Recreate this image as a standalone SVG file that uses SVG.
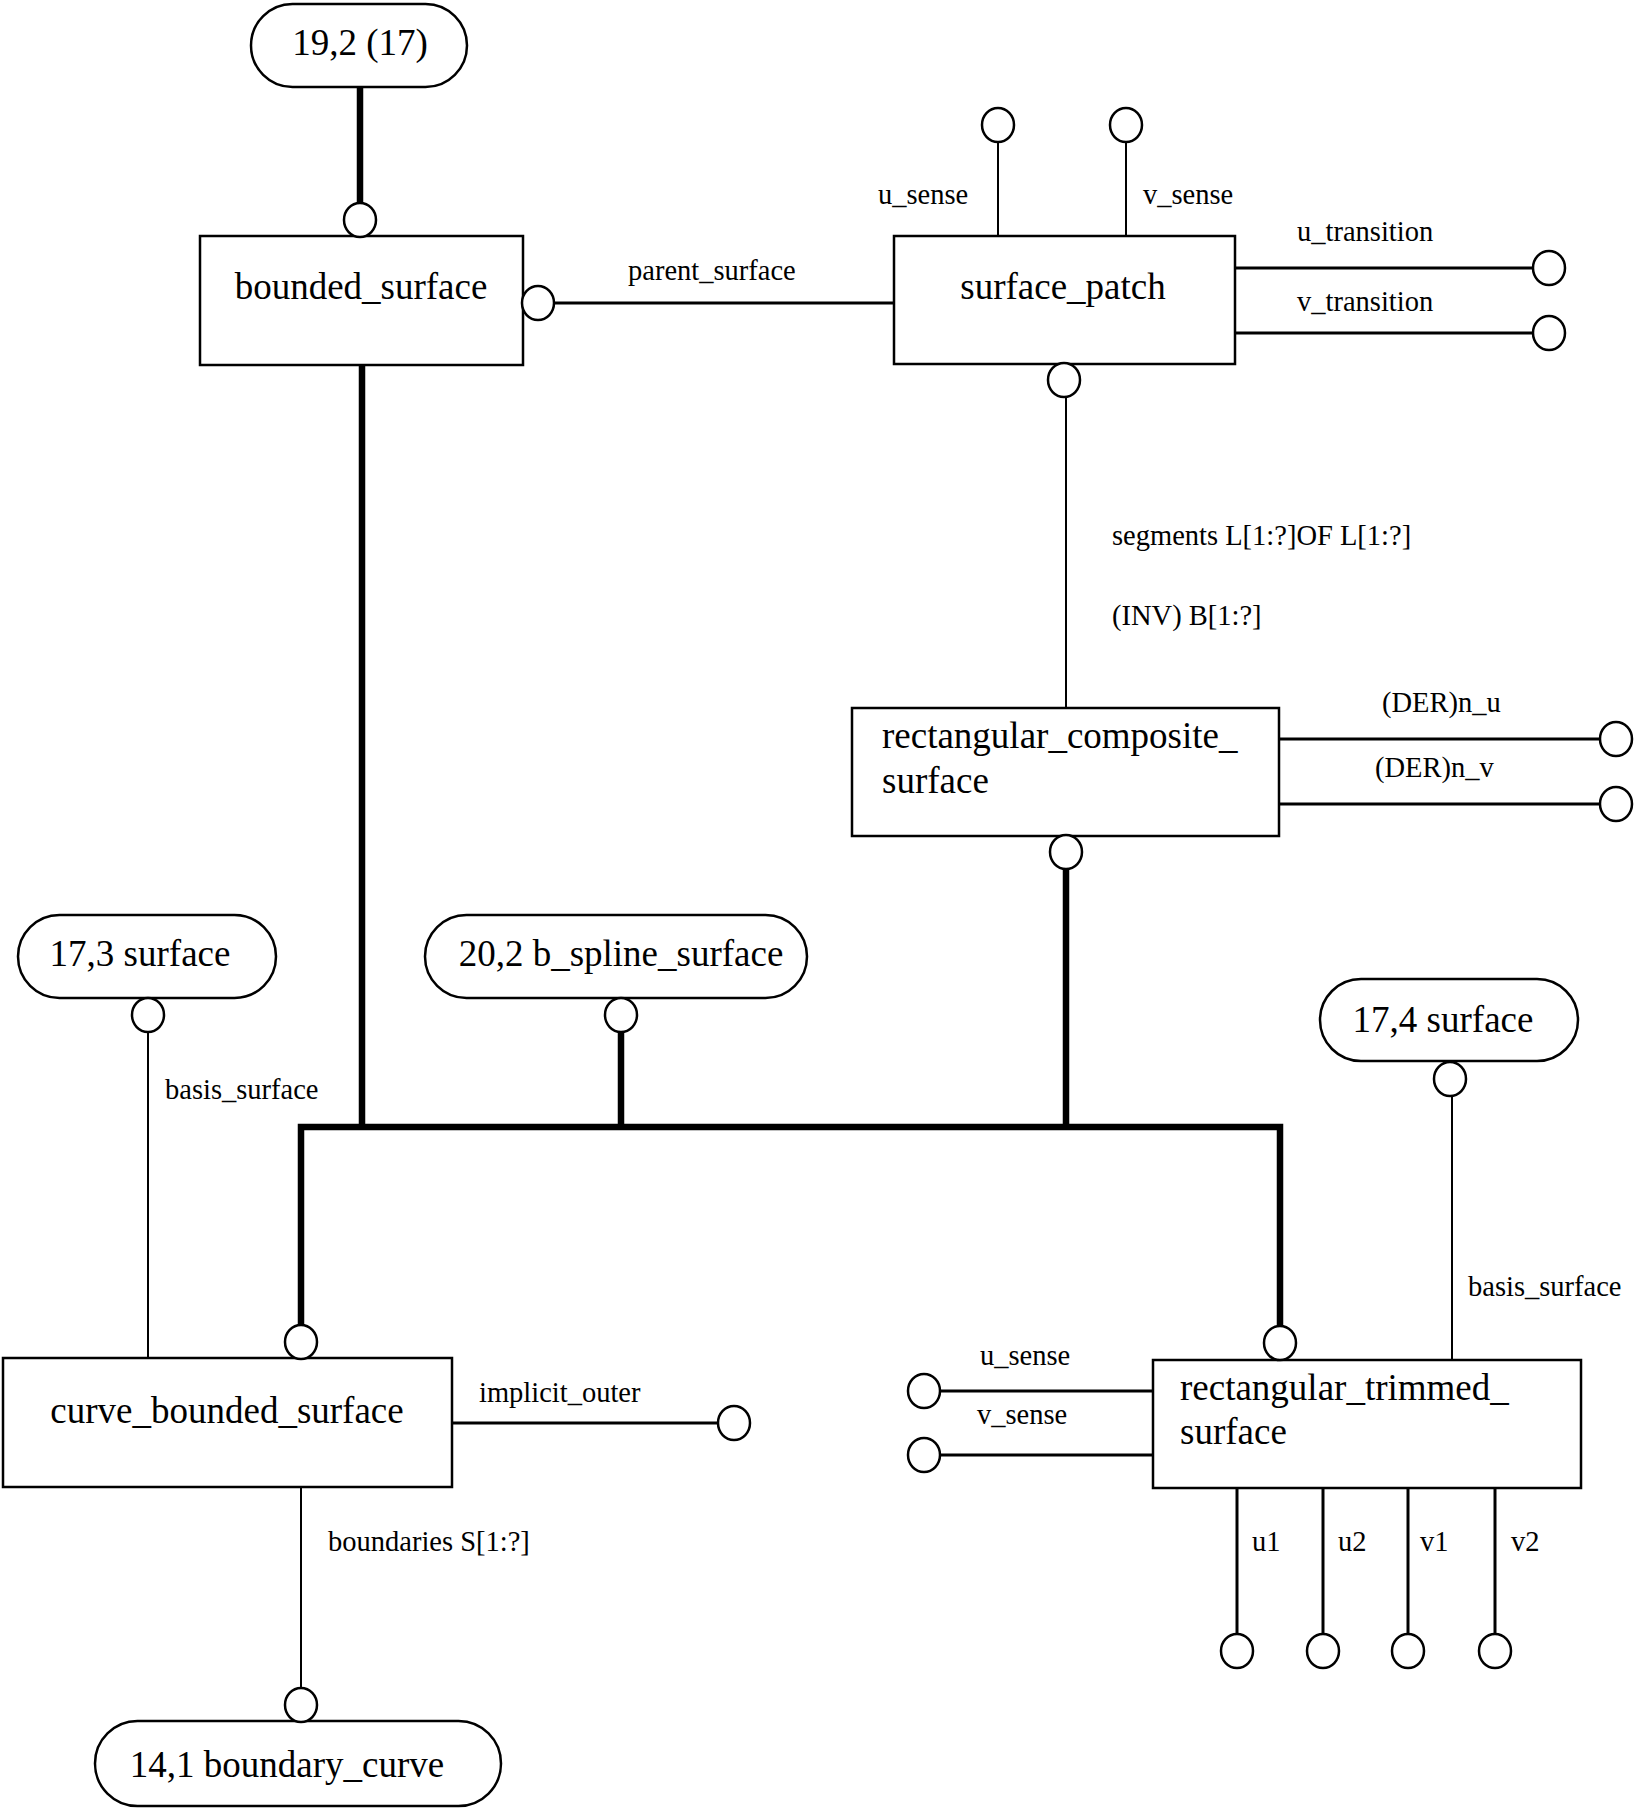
<svg xmlns="http://www.w3.org/2000/svg" width="1636" height="1813" viewBox="0 0 1636 1813">
<style>
.box{fill:#fff;stroke:#000;stroke-width:2.5}
.pill{fill:#fff;stroke:#000;stroke-width:2.5}
.c{fill:#fff;stroke:#000;stroke-width:2.5}
.thin{stroke:#000;stroke-width:2;fill:none}
.med{stroke:#000;stroke-width:3;fill:none}
.thick{stroke:#000;stroke-width:6.5;fill:none}
.big{font-family:"Liberation Serif","Times New Roman",serif;font-size:37px;fill:#000}
.sm{font-family:"Liberation Serif","Times New Roman",serif;font-size:28.5px;fill:#000}
</style>
<rect width="1636" height="1813" fill="#fff"/>
<g id="connectors">
<line class="thick" x1="360" y1="87" x2="360" y2="204"/>
<line class="med" x1="554" y1="303" x2="894" y2="303"/>
<line class="thin" x1="998" y1="141" x2="998" y2="236"/>
<line class="thin" x1="1126" y1="141" x2="1126" y2="236"/>
<line class="med" x1="1235" y1="268" x2="1533" y2="268"/>
<line class="med" x1="1235" y1="333" x2="1533" y2="333"/>
<line class="thin" x1="1066" y1="396" x2="1066" y2="708"/>
<line class="med" x1="1279" y1="739" x2="1600" y2="739"/>
<line class="med" x1="1279" y1="804" x2="1600" y2="804"/>
<line class="thick" x1="1066" y1="868" x2="1066" y2="1127"/>
<line class="thick" x1="362" y1="365" x2="362" y2="1127"/>
<line class="thick" x1="621" y1="1031" x2="621" y2="1127"/>
<polyline class="thick" points="301,1326 301,1127 1280,1127 1280,1326"/>
<line class="thin" x1="148" y1="1031" x2="148" y2="1358"/>
<line class="thin" x1="1452" y1="1095" x2="1452" y2="1360"/>
<line class="med" x1="452" y1="1423" x2="718" y2="1423"/>
<line class="thin" x1="301" y1="1487" x2="301" y2="1689"/>
<line class="med" x1="940" y1="1391" x2="1153" y2="1391"/>
<line class="med" x1="940" y1="1455" x2="1153" y2="1455"/>
<line class="med" x1="1237" y1="1488" x2="1237" y2="1634"/>
<line class="med" x1="1323" y1="1488" x2="1323" y2="1634"/>
<line class="med" x1="1408" y1="1488" x2="1408" y2="1634"/>
<line class="med" x1="1495" y1="1488" x2="1495" y2="1634"/>
</g>
<g id="connector-labels">
<text class="sm" x="628" y="280">parent_surface</text>
<text class="sm" x="878" y="204">u_sense</text>
<text class="sm" x="1143" y="204">v_sense</text>
<text class="sm" x="1297" y="241">u_transition</text>
<text class="sm" x="1297" y="311">v_transition</text>
<text class="sm" x="1112" y="545">segments L[1:?]OF L[1:?]</text>
<text class="sm" x="1112" y="625">(INV) B[1:?]</text>
<text class="sm" x="1382" y="712">(DER)n_u</text>
<text class="sm" x="1375" y="777">(DER)n_v</text>
<text class="sm" x="165" y="1099">basis_surface</text>
<text class="sm" x="1468" y="1296">basis_surface</text>
<text class="sm" x="479" y="1402">implicit_outer</text>
<text class="sm" x="980" y="1365">u_sense</text>
<text class="sm" x="977" y="1424">v_sense</text>
<text class="sm" x="328" y="1551">boundaries S[1:?]</text>
<text class="sm" x="1252" y="1551">u1</text>
<text class="sm" x="1338" y="1551">u2</text>
<text class="sm" x="1420" y="1551">v1</text>
<text class="sm" x="1511" y="1551">v2</text>
</g>
<g id="pill-19-2">
<rect class="pill" x="251" y="4" width="216" height="83" rx="41.5"/>
<text class="big" x="360" y="55" text-anchor="middle">19,2 (17)</text>
</g>
<g id="bounded_surface">
<rect class="box" x="200" y="236" width="323" height="129"/>
<text class="big" x="361" y="299" text-anchor="middle">bounded_surface</text>
</g>
<g id="surface_patch">
<rect class="box" x="894" y="236" width="341" height="128"/>
<text class="big" x="1063" y="299" text-anchor="middle">surface_patch</text>
</g>
<g id="rectangular_composite_surface">
<rect class="box" x="852" y="708" width="427" height="128"/>
<text class="big" x="882" y="748">rectangular_composite_</text>
<text class="big" x="882" y="793">surface</text>
</g>
<g id="pill-17-3">
<rect class="pill" x="18" y="915" width="258" height="83" rx="41.5"/>
<text class="big" x="140" y="966" text-anchor="middle">17,3 surface</text>
</g>
<g id="pill-20-2">
<rect class="pill" x="425" y="915" width="382" height="83" rx="41.5"/>
<text class="big" x="621" y="966" text-anchor="middle">20,2 b_spline_surface</text>
</g>
<g id="pill-17-4">
<rect class="pill" x="1320" y="979" width="258" height="82" rx="41"/>
<text class="big" x="1443" y="1032" text-anchor="middle">17,4 surface</text>
</g>
<g id="curve_bounded_surface">
<rect class="box" x="3" y="1358" width="449" height="129"/>
<text class="big" x="227" y="1423" text-anchor="middle">curve_bounded_surface</text>
</g>
<g id="rectangular_trimmed_surface">
<rect class="box" x="1153" y="1360" width="428" height="128"/>
<text class="big" x="1180" y="1400">rectangular_trimmed_</text>
<text class="big" x="1180" y="1444">surface</text>
</g>
<g id="pill-14-1">
<rect class="pill" x="95" y="1721" width="406" height="85" rx="42.5"/>
<text class="big" x="287" y="1777" text-anchor="middle">14,1 boundary_curve</text>
</g>
<g id="circles">
<ellipse class="c" cx="360" cy="220" rx="16" ry="17"/>
<ellipse class="c" cx="538" cy="303" rx="16" ry="17"/>
<ellipse class="c" cx="998" cy="125" rx="16" ry="17"/>
<ellipse class="c" cx="1126" cy="125" rx="16" ry="17"/>
<ellipse class="c" cx="1549" cy="268" rx="16" ry="17"/>
<ellipse class="c" cx="1549" cy="333" rx="16" ry="17"/>
<ellipse class="c" cx="1064" cy="380" rx="16" ry="17"/>
<ellipse class="c" cx="1616" cy="739" rx="16" ry="17"/>
<ellipse class="c" cx="1616" cy="804" rx="16" ry="17"/>
<ellipse class="c" cx="1066" cy="852" rx="16" ry="17"/>
<ellipse class="c" cx="148" cy="1015" rx="16" ry="17"/>
<ellipse class="c" cx="621" cy="1015" rx="16" ry="17"/>
<ellipse class="c" cx="1450" cy="1079" rx="16" ry="17"/>
<ellipse class="c" cx="301" cy="1342" rx="16" ry="17"/>
<ellipse class="c" cx="1280" cy="1343" rx="16" ry="17"/>
<ellipse class="c" cx="734" cy="1423" rx="16" ry="17"/>
<ellipse class="c" cx="301" cy="1705" rx="16" ry="17"/>
<ellipse class="c" cx="924" cy="1391" rx="16" ry="17"/>
<ellipse class="c" cx="924" cy="1455" rx="16" ry="17"/>
<ellipse class="c" cx="1237" cy="1651" rx="16" ry="17"/>
<ellipse class="c" cx="1323" cy="1651" rx="16" ry="17"/>
<ellipse class="c" cx="1408" cy="1651" rx="16" ry="17"/>
<ellipse class="c" cx="1495" cy="1651" rx="16" ry="17"/>
</g>
</svg>
